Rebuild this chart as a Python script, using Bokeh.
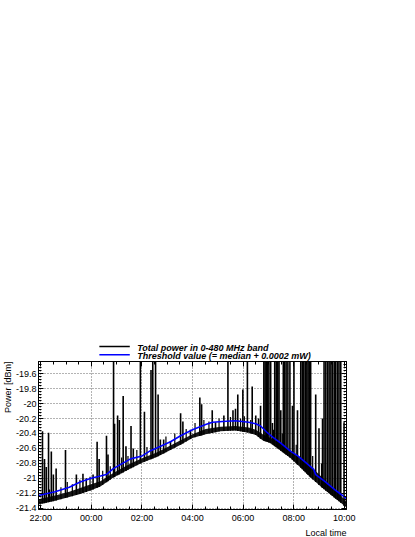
import numpy as np
from bokeh.plotting import figure
from bokeh.layouts import column
from bokeh.models import (Range1d, FixedTicker, LinearAxis, ColumnDataSource, Title)
from bokeh.core.properties import value
from bokeh.embed import file_html
from bokeh.resources import INLINE

# ---------------- data (time in hours after 22:00 local time) ----------------
x_ticks = [0, 2, 4, 6, 8, 10, 12]
x_tick_labels = ["22:00", "00:00", "02:00", "04:00", "06:00", "08:00", "10:00"]
y_ticks = [-21.4, -21.2, -21.0, -20.8, -20.6, -20.4, -20.2, -20.0, -19.8, -19.6]
y_tick_labels = ["-21.4", "-21.2", "-21", "-20.8", "-20.6", "-20.4", "-20.2",
                 "-20", "-19.8", "-19.6"]

# threshold (median + 0.0002 mW), dBm
thr_t = [-0.09, 0.57, 1.13, 1.56, 1.99, 2.36, 2.59, 2.87, 3.55, 4.01, 4.34,
         4.61, 5.13, 5.53, 6.00, 6.52, 6.79, 7.19, 7.70, 8.22, 8.50, 8.69,
         8.93, 9.17, 9.49, 9.88, 10.16, 10.48, 10.79, 10.87, 11.23, 11.62, 12.09]
thr_v = [-21.23, -21.18, -21.12, -21.05, -21.00, -20.97, -20.95, -20.87, -20.74,
         -20.70, -20.63, -20.59, -20.51, -20.43, -20.35, -20.28, -20.25, -20.24,
         -20.23, -20.25, -20.27, -20.30, -20.38, -20.45, -20.53, -20.64, -20.70,
         -20.79, -20.88, -20.95, -21.04, -21.15, -21.27]

# total power: dense noise band (lower / upper envelope), dBm
band_t = [-0.09, 0.57, 1.13, 1.56, 1.99, 2.36, 2.87, 3.55, 4.01, 4.61, 5.13,
          5.53, 6.00, 6.52, 7.11, 7.70, 8.22, 8.50, 8.77, 9.09, 9.49, 9.88,
          10.28, 10.67, 11.07, 11.47, 12.09]
band_lo = [-21.35, -21.30, -21.25, -21.21, -21.16, -21.11, -20.99, -20.87,
           -20.79, -20.71, -20.62, -20.55, -20.46, -20.41, -20.37, -20.36,
           -20.39, -20.42, -20.49, -20.53, -20.63, -20.73, -20.86, -20.99,
           -21.11, -21.22, -21.39]
band_hi = [-21.28, -21.23, -21.18, -21.13, -21.08, -21.04, -20.93, -20.80,
           -20.73, -20.65, -20.56, -20.49, -20.41, -20.34, -20.31, -20.30,
           -20.32, -20.35, -20.41, -20.46, -20.53, -20.63, -20.72, -20.84,
           -20.97, -21.10, -21.31]

# total power: spikes (time, peak dBm); -19.3 = off scale at the top
spike_t = [0.07, 0.15, 0.22, 0.31, 0.42, 0.50, 0.61, 0.98, 1.41, 1.67,
           1.80, 2.07, 2.23, 2.31, 2.60, 2.66, 2.88, 2.92, 3.04, 3.11,
           3.26, 3.37, 3.57, 3.66, 3.94, 4.10, 4.36, 4.43, 4.54, 4.64,
           4.73, 4.86, 5.13, 5.53, 5.62, 5.92, 6.29, 6.36, 6.78, 6.91,
           7.24, 7.40, 7.60, 7.70, 7.79, 7.99, 8.17, 8.36, 8.50, 8.61,
           8.69, 8.82, 8.87, 8.92, 8.97, 9.02, 9.09, 9.16, 9.25, 9.31,
           9.37, 9.42, 9.49, 9.59, 9.64, 9.70, 9.77, 9.85, 9.95, 10.01,
           10.15, 10.28, 10.34, 10.40, 10.46, 10.52, 10.57, 10.63, 10.67, 10.87,
           11.00, 11.14, 11.20, 11.27, 11.34, 11.40, 11.47, 11.53, 11.60, 11.66,
           11.73, 11.79, 11.86, 11.99]
spike_top = [-20.37, -20.74, -20.85, -20.39, -20.64, -20.95, -20.87, -20.62, -20.95, -20.94,
             -21.00, -20.95, -20.51, -20.74, -20.43, -20.68, -19.30, -20.27, -20.16, -20.22,
             -19.90, -20.57, -20.30, -20.60, -19.30, -20.11, -19.55, -19.30, -19.30, -19.88,
             -20.48, -20.48, -20.50, -20.13, -20.24, -20.35, -19.92, -20.01, -20.09, -20.25,
             -20.16, -19.30, -20.09, -20.07, -19.88, -19.81, -19.30, -19.77, -20.16, -20.20,
             -20.03, -19.30, -19.30, -19.30, -19.30, -19.30, -19.30, -20.26, -19.30, -19.30,
             -19.30, -19.30, -20.09, -19.30, -19.30, -19.30, -19.30, -19.30, -20.03, -19.30,
             -20.09, -19.30, -19.30, -19.30, -19.30, -19.30, -19.30, -19.30, -19.30, -19.88,
             -20.33, -20.20, -19.30, -19.30, -19.30, -19.30, -19.30, -19.30, -19.30, -19.30,
             -19.30, -19.30, -19.30, -20.25]

# small noise bursts riding on the band (time, peak dBm)
blip_t = [0.35, 0.80, 1.05, 1.25, 1.55, 1.95, 2.45, 2.75, 3.20, 3.45, 3.80,
          4.20, 4.95, 5.30, 5.75, 6.10, 6.45, 6.65, 7.05, 7.50, 7.90, 8.05,
          8.30, 9.20, 9.55, 10.10, 10.75, 11.10]
blip_top = [-21.15, -21.12, -21.05, -21.08, -21.02, -20.98, -20.90, -20.84,
            -20.72, -20.70, -20.62, -20.58, -20.44, -20.40, -20.34, -20.26,
            -20.22, -20.24, -20.20, -20.18, -20.20, -20.17, -20.22, -20.35,
            -20.40, -20.55, -20.70, -20.80]

legend_labels = ["Total power in 0-480 MHz band",
                 "Threshold value (= median + 0.0002 mW)"]
legend_colors = ["black", "#0000ff"]
x_title = "Local time"
y_title = "Power [dBm]"

FONT = "Liberation Sans"
X_MINOR = list(np.arange(0, 12.01, 0.5))
Y_MINOR = list(np.arange(-21.4, -19.43, 0.04))
W = 415
LEG_H = 361
MAIN_H = 176

# ---------------- legend strip (page pixel coordinates) ----------------
lf = figure(width=W, height=LEG_H, output_backend="svg", toolbar_location=None,
            x_range=Range1d(0, W), y_range=Range1d(LEG_H, 0),
            x_axis_type=None, y_axis_type=None, outline_line_color=None,
            min_border=0, background_fill_color="white", border_fill_color="white")
leg_src = ColumnDataSource(dict(x0=[82, 82], x1=[123, 123], y=[346, 354.3],
                                ty=[347.5, 355.5], tx=[133, 133],
                                label=legend_labels, color=legend_colors))
lf.segment(x0="x0", y0="y", x1="x1", y1="y", color="color", line_width=1.6,
           source=leg_src)
lf.text(x="tx", y="ty", text="label", source=leg_src, text_font=value(FONT),
        text_font_style="bold italic", text_font_size="9px",
        text_baseline="alphabetic", text_align="left", text_color="black")

# ---------------- main plot ----------------
p = figure(width=W, height=MAIN_H, output_backend="svg", toolbar_location=None,
           x_range=Range1d(-0.087, 12.087), y_range=Range1d(-21.417, -19.437),
           min_border_left=38, min_border_right=69, min_border_top=0,
           min_border_bottom=24, background_fill_color="white",
           border_fill_color="white", outline_line_color="black")

p.xaxis.ticker = FixedTicker(ticks=x_ticks, minor_ticks=X_MINOR)
p.xaxis.major_label_overrides = dict(zip(x_ticks, x_tick_labels))
p.yaxis.ticker = FixedTicker(ticks=y_ticks, minor_ticks=Y_MINOR)
p.yaxis.major_label_overrides = dict(zip(y_ticks, y_tick_labels))
for ax in (p.xaxis[0], p.yaxis[0]):
    ax.major_tick_in = 5
    ax.major_tick_out = 0
    ax.minor_tick_in = 3
    ax.minor_tick_out = 0
    ax.axis_line_color = "black"
    ax.major_label_text_font = FONT
    ax.major_label_text_font_size = "9px"
    ax.major_label_text_color = "black"
p.xaxis.major_label_standoff = 3
p.yaxis.major_label_standoff = 2

for side, tk, mn in (("above", x_ticks, X_MINOR), ("right", y_ticks, Y_MINOR)):
    ax = LinearAxis(ticker=FixedTicker(ticks=tk, minor_ticks=mn),
                    major_label_overrides={t: "" for t in tk},
                    major_tick_in=5, major_tick_out=0, minor_tick_in=3,
                    minor_tick_out=0, axis_line_color="black",
                    major_label_text_font_size="0px", major_label_standoff=0)
    p.add_layout(ax, side)

p.grid.grid_line_color = "#666666"
p.grid.grid_line_dash = "1 2"
p.grid.grid_line_width = 1

p.varea(x=band_t, y1=band_lo, y2=band_hi, fill_color="black", fill_alpha=0.9)

blip_base = np.interp(blip_t, band_t, band_lo)
p.segment(x0=blip_t, y0=list(blip_base), x1=blip_t, y1=blip_top,
          line_color="black", line_width=1.2)

spike_base = np.interp(spike_t, band_t, band_lo)
src = ColumnDataSource(dict(x=spike_t, y0=spike_base, y1=spike_top))
p.segment(x0="x", y0="y0", x1="x", y1="y1", source=src,
          line_color="black", line_width=1.6)

p.line(thr_t, thr_v, line_color="#0000ff", line_width=1.6)

p.add_layout(Title(text=x_title, align="right", text_font=FONT,
                   text_font_size="9px", text_font_style="normal",
                   text_color="black", standoff=0, offset=0), "below")
p.add_layout(Title(text=y_title, align="right", text_font=FONT,
                   text_font_size="9px", text_font_style="normal",
                   text_color="black", standoff=0, offset=0), "left")

layout = column(lf, p, spacing=0)
open("out.html", "w").write(file_html(layout, INLINE))
